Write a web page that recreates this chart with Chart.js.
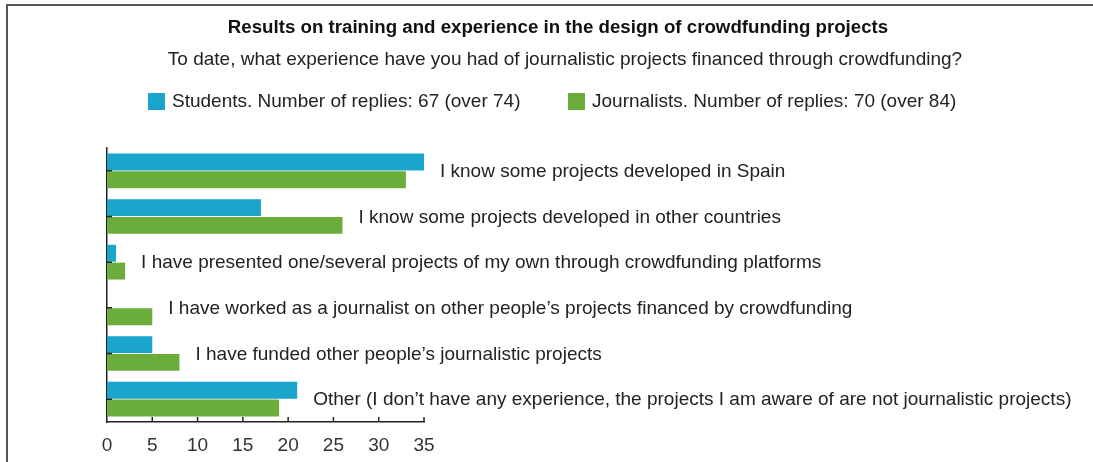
<!DOCTYPE html>
<html>
<head>
<meta charset="utf-8">
<script src="https://cdn.jsdelivr.net/npm/chart.js@4.4.1/dist/chart.umd.min.js"></script>
<style>
    html, body { margin: 0; padding: 0; background: #fff; }
    #wrap { position: relative; width: 1093px; height: 462px; }
    #frame {
        position: absolute; left: 6px; top: 4px; right: 0; bottom: 0;
        border-top: 2px solid #555; border-left: 2px solid #555;
        pointer-events: none;
    }
    canvas { display: block; }
</style>
</head>
<body>
<div id="wrap">
    <canvas id="bar_chart" width="1093" height="462"></canvas>
    <div id="frame"></div>
</div>
<script>
// categories, top to bottom
const categories = [
    "I know some projects developed in Spain",
    "I know some projects developed in other countries",
    "I have presented one/several projects of my own through crowdfunding platforms",
    "I have worked as a journalist on other people\u2019s projects financed by crowdfunding",
    "I have funded other people\u2019s journalistic projects",
    "Other (I don\u2019t have any experience, the projects I am aware of are not journalistic projects)"
];
const titleText = "Results on training and experience in the design of crowdfunding projects";
const subtitleText = "To date, what experience have you had of journalistic projects financed through crowdfunding?";
const studentsLabel = "Students. Number of replies: 67 (over 74)";
const journalistsLabel = "Journalists. Number of replies: 70 (over 84)";
const studentsValues = [35, 17, 1, 0, 5, 21];
const journalistsValues = [33, 26, 2, 5, 8, 19];
const xTicks = [0, 5, 10, 15, 20, 25, 30, 35];

const blue = '#1aa5cd';
const green = '#6bad3b';
const fontFamily = '"Liberation Sans", Arial, sans-serif';

// title, question and legend drawn across the full width
const header = {
    id: 'header',
    afterDraw(chart) {
        const ctx = chart.ctx;
        ctx.save();
        ctx.textBaseline = 'middle';
        ctx.fillStyle = '#111';
        ctx.textAlign = 'center';
        ctx.font = 'bold 18.7px ' + fontFamily;
        ctx.fillText(titleText, 558, 28);
        ctx.fillStyle = '#222';
        ctx.font = '19px ' + fontFamily;
        ctx.fillText(subtitleText, 565, 60);

        // legend
        ctx.textAlign = 'left';
        ctx.font = '19px ' + fontFamily;
        const items = [[studentsLabel, blue, 148], [journalistsLabel, green, 568]];
        items.forEach(function (it) {
            ctx.fillStyle = it[1];
            ctx.fillRect(it[2], 93, 17, 17);
            ctx.fillStyle = '#222';
            ctx.fillText(it[0], it[2] + 24, 102);
        });
        ctx.restore();
    }
};

// labels written to the right of each pair of bars
const barLabels = {
    id: 'barLabels',
    afterDatasetsDraw(chart) {
        const ctx = chart.ctx;
        const x = chart.scales.x, y = chart.scales.y;
        ctx.save();
        ctx.font = '19px ' + fontFamily;
        ctx.fillStyle = '#222';
        ctx.textBaseline = 'middle';
        ctx.textAlign = 'left';
        categories.forEach(function (cat, i) {
            const maxVal = Math.max(studentsValues[i], journalistsValues[i]);
            ctx.fillText(cat, x.getPixelForValue(maxVal) + 16, y.getPixelForValue(i) + 1);
        });
        ctx.restore();
    }
};

// small inward tick marks on both axes
const innerTicks = {
    id: 'innerTicks',
    afterDatasetsDraw(chart) {
        const ctx = chart.ctx;
        const x = chart.scales.x, y = chart.scales.y;
        const area = chart.chartArea;
        ctx.save();
        ctx.strokeStyle = '#222';
        ctx.lineWidth = 1.5;
        ctx.beginPath();
        xTicks.forEach(function (v) {
            if (v === 0) return;
            const px = x.getPixelForValue(v);
            ctx.moveTo(px, area.bottom);
            ctx.lineTo(px, area.bottom - 5);
        });
        categories.forEach(function (c, i) {
            const py = y.getPixelForValue(i);
            ctx.moveTo(area.left, py);
            ctx.lineTo(area.left + 5, py);
        });
        ctx.stroke();
        ctx.restore();
    }
};

const ctx1 = document.getElementById('bar_chart').getContext('2d');
const chart1 = new Chart(ctx1, {
    type: 'bar',
    data: {
        labels: categories,
        datasets: [{
            label: studentsLabel,
            data: studentsValues,
            backgroundColor: blue,
            categoryPercentage: 0.78,
            barPercentage: 0.95
        }, {
            label: journalistsLabel,
            data: journalistsValues,
            backgroundColor: green,
            categoryPercentage: 0.78,
            barPercentage: 0.95
        }]
    },
    options: {
        indexAxis: 'y',
        responsive: false,
        animation: false,
        layout: {
            padding: { left: 107, right: 669, top: 148, bottom: 0 }
        },
        scales: {
            x: {
                min: 0,
                max: 35,
                afterBuildTicks: function (scale) {
                    scale.ticks = xTicks.map(v => ({ value: v }));
                },
                afterFit: function (scale) {
                    scale.height = 40;
                },
                grid: { display: false, drawTicks: false },
                border: { display: true, color: '#222', width: 1.5 },
                ticks: {
                    padding: 12,
                    color: '#333',
                    font: { size: 19, family: fontFamily }
                }
            },
            y: {
                afterFit: function (scale) {
                    scale.width = 0;
                },
                grid: { display: false, drawTicks: false },
                border: { display: true, color: '#222', width: 1.5 },
                ticks: { display: false }
            }
        },
        plugins: {
            title: { display: false },
            legend: { display: false },
            tooltip: { enabled: false }
        }
    },
    plugins: [barLabels, innerTicks, header]
});
</script>
</body>
</html>
